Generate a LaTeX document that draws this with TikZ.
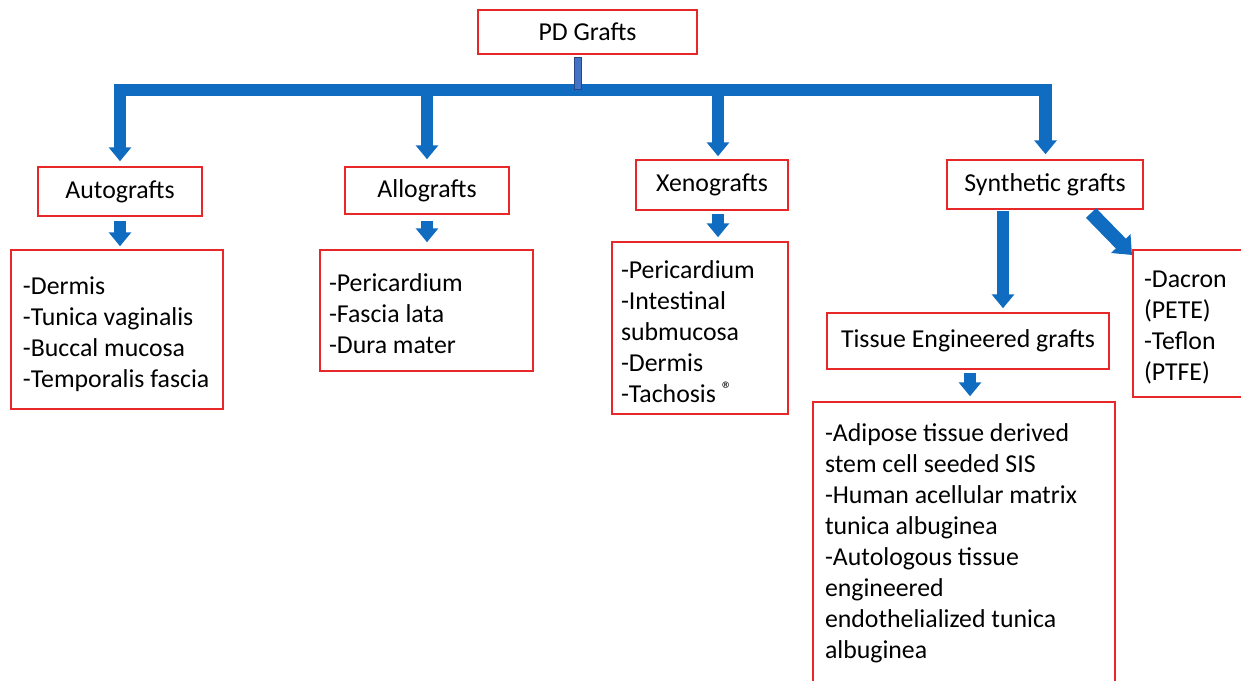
\documentclass[tikz,border=0pt]{standalone}
\usepackage{fontspec}
\setmainfont{Carlito}
\usetikzlibrary{arrows.meta,calc}
\definecolor{boxred}{RGB}{232,40,40}
\definecolor{arrblue}{RGB}{16,108,192}
\definecolor{conblue}{RGB}{68,114,196}
\definecolor{condark}{RGB}{40,70,130}
\newcommand{\natsp}{\spaceskip=0pt\xspaceskip=0pt\relax}
\begin{document}
\begin{tikzpicture}[x=1pt,y=-1pt,
  box/.style={draw=boxred, line width=1.5pt, fill=white, inner ysep=0pt,
    font=\fontsize{25.8}{31}\selectfont, text=black},
  titlebox/.style={box, align=center, inner xsep=0pt},
  listbox/.style={box, align=left},
  tip/.style={-{Triangle[width=22pt,length=14pt]}},
  blockarrow/.style={draw=arrblue, line width=12pt, line join=miter, tip},
  stub/.style={fill=conblue, draw=condark, line width=0.8pt}]
\useasboundingbox (0,0) rectangle (1241,680);

% title boxes
\node[titlebox, minimum width=219pt, minimum height=44pt] (pd) at (587.5,32) {PD Grafts};
\node[titlebox, minimum width=164pt, minimum height=49pt] (auto) at (120,191.5) {Autografts};
\node[titlebox, minimum width=164pt, minimum height=47pt] (allo) at (427,190.5) {Allografts};
\node[titlebox, minimum width=152pt, minimum height=50pt] (xeno) at (712,185) {Xenografts};
\node[titlebox, minimum width=196pt, minimum height=49pt] (syn) at (1045,184.5) {Synthetic grafts};
\node[titlebox, minimum width=282pt, minimum height=56pt] (tis) at (968,341) {Tissue Engineered grafts};

% list boxes
\node[listbox, inner xsep=12pt, text width=188pt, minimum height=159pt] (autol) at (117,329.5)
  {\natsp\rule{0pt}{27pt}-Dermis\\-Tunica vaginalis\\-Buccal mucosa\\-Temporalis fascia};
\node[listbox, inner xsep=9pt, text width=195pt, minimum height=121pt] (allol) at (426.5,310.5)
  {\natsp\rule{0pt}{25pt}-Pericardium\\-Fascia lata\\-Dura mater};
\node[listbox, inner xsep=9pt, text width=158pt, minimum height=172pt] (xenol) at (700,328)
  {\natsp\rule{0pt}{25pt}-Pericardium\\-Intestinal\\submucosa\\-Dermis\\-Tachosis {\fontsize{21}{21}\selectfont\raisebox{6pt}{®}}};
\node[listbox, inner xsep=11pt, text width=107pt, minimum height=147pt] (synl) at (1197.5,323.5)
  {\natsp\rule{0pt}{25pt}-Dacron\\(PETE)\\-Teflon\\(PTFE)};
\node[listbox, inner xsep=12pt, text width=278pt, minimum height=282pt] (tisl) at (964,543)
  {\natsp -Adipose tissue derived\\stem cell seeded SIS\\-Human acellular matrix\\tunica albuginea\\-Autologous tissue\\engineered\\endothelialized tunica\\albuginea};

% bus with the two outer arrows
\coordinate (bl) at (120,90);
\coordinate (br) at (1045.5,90);
\draw[blockarrow, line width=12.5pt, {Triangle[width=22pt,length=14pt]}-{Triangle[width=22pt,length=14pt]}]
  ([yshift=5pt]auto.north) -- (bl) -- (br) -- ([yshift=5pt]syn.north -| br);
\draw[blockarrow] (427,92) -- ([yshift=7pt]allo.north);
\draw[blockarrow] (718,92) -- ([yshift=3pt]xeno.north -| 718,0);
\draw[stub] ([xshift=-13.5pt,yshift=-3pt]pd.south) rectangle ([xshift=-6.5pt,yshift=-35pt]pd.south);

% small arrows
\draw[blockarrow] ([yshift=-4pt]auto.south) -- ([yshift=3pt]autol.north -| auto.south);
\draw[blockarrow] ([yshift=-6pt]allo.south) -- ([yshift=7pt]allol.north -| allo.south);
\draw[blockarrow] (xeno.south -| 718,0) ++(0,3) -- ([yshift=4pt]xenol.north -| 718,0);
\draw[blockarrow] (syn.south -| 1003,0) ++(0,1) -- ([yshift=4pt]tis.north -| 1003,0);
\draw[blockarrow, line width=14pt, -{Triangle[width=26pt,length=16pt]}] (1091,213) -- (1132,255);
\draw[blockarrow] (tis.south -| 970,0) ++(0,3) -- ([yshift=5pt]tisl.north -| 970,0);
\end{tikzpicture}
\end{document}
